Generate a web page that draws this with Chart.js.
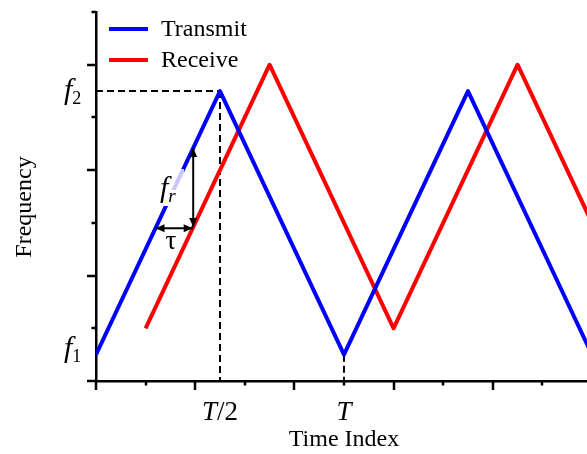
<!DOCTYPE html>
<html>
<head>
<meta charset="utf-8">
<script src="https://cdn.jsdelivr.net/npm/chart.js@4.4.0/dist/chart.umd.min.js"></script>
<style>
  html, body { margin: 0; padding: 0; background: #fff; overflow: hidden; }
  #wrap { width: 587px; height: 454px; position: relative; }
</style>
</head>
<body>
<div id="wrap"><canvas id="c" width="587" height="454"></canvas></div>
<script>
// Triangular FMCW sweep: transmitted chirp and delayed / shifted echo
const seriesNames = ['Transmit', 'Receive'];
const seriesColors = ['#0000ff', '#ff0000'];
const transmitTime = [0, 2.5, 5, 7.5, 10];
const transmitFreq = [0.5, 5.5, 0.5, 5.5, 0.5];
const receiveTime = [1, 3.5, 6, 8.5, 11];
const receiveFreq = [1, 6, 1, 6, 1];

// Symbolic tick labels
const timeTickValues = [2.5, 5];
const timeTickMain = ['T', 'T'];
const timeTickRest = ['/2', ''];
const freqTickValues = [0.5, 5.5];
const freqTickSubs = ['1', '2'];

// Beat-frequency and delay markers
const beatTime = 1.96;
const beatFreqTop = 4.42;
const beatFreqBottom = 2.92;
const delayFreq = 2.9;
const delayTimeStart = 1.2;
const delayTimeEnd = 1.95;

const SERIF = '"Liberation Serif", "Times New Roman", serif';

function arrowHead(ctx, x, y, dx, dy) {
  const len = 9, half = 4;
  const n = Math.hypot(dx, dy);
  const ux = dx / n, uy = dy / n;
  ctx.beginPath();
  ctx.moveTo(x, y);
  ctx.lineTo(x - ux * len - uy * half, y - uy * len + ux * half);
  ctx.lineTo(x - ux * len + uy * half, y - uy * len - ux * half);
  ctx.closePath();
  ctx.fill();
}

function doubleArrow(ctx, x1, y1, x2, y2) {
  ctx.beginPath();
  ctx.moveTo(x1, y1);
  ctx.lineTo(x2, y2);
  ctx.stroke();
  arrowHead(ctx, x1, y1, x1 - x2, y1 - y2);
  arrowHead(ctx, x2, y2, x2 - x1, y2 - y1);
}

function italicWithSub(ctx, x, y, main, sub, mainSize, subSize, subDy, subItalic) {
  ctx.font = 'italic ' + mainSize + 'px ' + SERIF;
  ctx.textAlign = 'left';
  ctx.textBaseline = 'alphabetic';
  ctx.fillText(main, x, y);
  const w = ctx.measureText(main).width;
  ctx.font = (subItalic ? 'italic ' : '') + subSize + 'px ' + SERIF;
  ctx.fillText(sub, x + w, y + subDy);
}

const decor = {
  id: 'decor',
  beforeDatasetsDraw(chart) {
    const ctx = chart.ctx;
    const xs = chart.scales.x, ys = chart.scales.y;
    ctx.save();
    ctx.strokeStyle = '#000';
    ctx.lineWidth = 2;
    ctx.setLineDash([7, 4]);
    // f2 level to the first transmit peak
    ctx.beginPath();
    ctx.moveTo(xs.getPixelForValue(0), ys.getPixelForValue(transmitFreq[1]));
    ctx.lineTo(xs.getPixelForValue(transmitTime[1]), ys.getPixelForValue(transmitFreq[1]));
    ctx.stroke();
    // drop lines at T/2 and T
    ctx.beginPath();
    ctx.moveTo(xs.getPixelForValue(transmitTime[1]), ys.getPixelForValue(transmitFreq[1]));
    ctx.lineTo(xs.getPixelForValue(transmitTime[1]), ys.getPixelForValue(0));
    ctx.stroke();
    ctx.beginPath();
    ctx.moveTo(xs.getPixelForValue(transmitTime[2]), ys.getPixelForValue(transmitFreq[2]));
    ctx.lineTo(xs.getPixelForValue(transmitTime[2]), ys.getPixelForValue(0));
    ctx.stroke();
    ctx.restore();
  },
  afterDatasetsDraw(chart) {
    const ctx = chart.ctx;
    const xs = chart.scales.x, ys = chart.scales.y;
    const area = chart.chartArea;
    ctx.save();

    // tick marks: long on even values, short on odd
    ctx.strokeStyle = '#000';
    ctx.lineWidth = 2.5;
    ctx.lineCap = 'butt';
    for (let v = 0; v <= 7; v++) {
      const py = Math.round(ys.getPixelForValue(v));
      const len = v % 2 === 0 ? 9 : 4.5;
      ctx.beginPath();
      ctx.moveTo(area.left, py);
      ctx.lineTo(area.left - len, py);
      ctx.stroke();
    }
    for (let v = 0; v <= 9; v++) {
      const px = Math.round(xs.getPixelForValue(v));
      const len = v % 2 === 0 ? 9 : 4.5;
      ctx.beginPath();
      ctx.moveTo(px, area.bottom);
      ctx.lineTo(px, area.bottom + len);
      ctx.stroke();
    }

    // label backing for f_r over the transmit line
    const frX = 160, frY = 197;
    ctx.fillStyle = 'rgba(255,255,255,0.78)';
    ctx.fillRect(frX, frY - 28, 24, 21);
    ctx.fillStyle = '#fff';
    ctx.fillRect(frX, frY - 7, 24, 16);

    // beat frequency and delay arrows
    ctx.fillStyle = '#000';
    ctx.strokeStyle = '#000';
    ctx.lineWidth = 2;
    doubleArrow(ctx,
      xs.getPixelForValue(beatTime), ys.getPixelForValue(beatFreqTop),
      xs.getPixelForValue(beatTime), ys.getPixelForValue(beatFreqBottom));
    doubleArrow(ctx,
      xs.getPixelForValue(delayTimeStart), ys.getPixelForValue(delayFreq),
      xs.getPixelForValue(delayTimeEnd), ys.getPixelForValue(delayFreq));

    ctx.fillStyle = '#000';
    italicWithSub(ctx, frX, frY, 'f', 'r', 30, 19, 5, true);
    ctx.font = '27px ' + SERIF;
    ctx.textAlign = 'center';
    ctx.textBaseline = 'alphabetic';
    ctx.fillText('\u03C4', 171, 249);

    // frequency tick labels f1, f2
    const freqOffsets = [2.5, 8];
    freqTickValues.forEach((v, i) => {
      const py = ys.getPixelForValue(v) + freqOffsets[i];
      italicWithSub(ctx, 64, py, 'f', freqTickSubs[i], 30, 18, 5, false);
    });

    // time tick labels T/2, T
    timeTickValues.forEach((v, i) => {
      const px = xs.getPixelForValue(v);
      ctx.font = 'italic 27px ' + SERIF;
      const w1 = ctx.measureText(timeTickMain[i]).width;
      ctx.font = '27px ' + SERIF;
      const w2 = ctx.measureText(timeTickRest[i]).width;
      const x0 = px - (w1 + w2) / 2;
      ctx.textAlign = 'left';
      ctx.font = 'italic 27px ' + SERIF;
      ctx.fillText(timeTickMain[i], x0, 420);
      ctx.font = '27px ' + SERIF;
      ctx.fillText(timeTickRest[i], x0 + w1, 420);
    });

    // axis titles
    ctx.font = '24px ' + SERIF;
    ctx.textAlign = 'center';
    ctx.fillText('Time Index', xs.getPixelForValue(5), 446);
    ctx.save();
    ctx.translate(31, 207);
    ctx.rotate(-Math.PI / 2);
    ctx.fillText('Frequency', 0, 0);
    ctx.restore();

    // legend
    chart.data.datasets.forEach((ds, i) => {
      const y = 29 + i * 31;
      ctx.strokeStyle = ds.borderColor;
      ctx.lineWidth = 4;
      ctx.beginPath();
      ctx.moveTo(109, y);
      ctx.lineTo(148, y);
      ctx.stroke();
      ctx.fillStyle = '#000';
      ctx.font = '24px ' + SERIF;
      ctx.textAlign = 'left';
      ctx.fillText(ds.label, 161, y + 7);
    });

    ctx.restore();
  }
};

const toPoints = (xs, ys) => xs.map((x, i) => ({ x: x, y: ys[i] }));

new Chart(document.getElementById('c'), {
  type: 'line',
  data: {
    datasets: [
      {
        label: seriesNames[0],
        data: toPoints(transmitTime, transmitFreq),
        borderColor: seriesColors[0],
        borderWidth: 4,
        pointRadius: 0,
        tension: 0,
        borderJoinStyle: 'round',
        borderCapStyle: 'butt'
      },
      {
        label: seriesNames[1],
        data: toPoints(receiveTime, receiveFreq),
        borderColor: seriesColors[1],
        borderWidth: 4,
        pointRadius: 0,
        tension: 0,
        borderJoinStyle: 'round',
        borderCapStyle: 'butt'
      }
    ]
  },
  options: {
    responsive: false,
    animation: false,
    devicePixelRatio: 1,
    layout: { padding: { left: 96, top: 12, right: 0, bottom: 73 } },
    plugins: { legend: { display: false }, tooltip: { enabled: false } },
    scales: {
      x: {
        type: 'linear', min: 0, max: 9.9,
        grid: { display: false, drawTicks: false },
        ticks: { display: false },
        border: { display: true, color: '#000', width: 2.5 },
        afterFit(s) { s.height = 0; }
      },
      y: {
        type: 'linear', min: 0, max: 7,
        grid: { display: false, drawTicks: false },
        ticks: { display: false },
        border: { display: true, color: '#000', width: 2.5 },
        afterFit(s) { s.width = 0; }
      }
    }
  },
  plugins: [decor]
});
</script>
</body>
</html>
